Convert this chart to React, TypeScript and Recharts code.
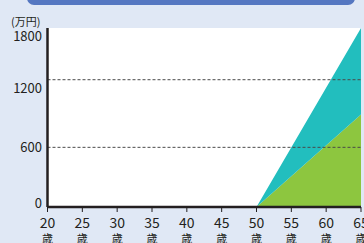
import { AreaChart, Area, XAxis, YAxis, CartesianGrid, ReferenceLine } from "recharts"

// 年齢 (x) と積み上げ金額 (万円)
const ages = [20, 50, 65]
const greenValues = [0, 0, 930]
const tealValues = [0, 0, 870]

const ageTicks = [20, 25, 30, 35, 40, 45, 50, 55, 60, 65]
const yenTicks = [0, 600, 1200, 1800]
const dashedLevels = [600, 1280]

const data = ages.map((age, i) => ({ age, green: greenValues[i], teal: tealValues[i] }))

const FONT = "'Noto Sans CJK JP', 'Noto Sans', sans-serif"

const AgeTick = (props: any) => {
  const { x, y, payload } = props
  return (
    <g transform={`translate(${x},${y})`}>
      <text textAnchor="middle" fontFamily={FONT} fontSize={14} fill="#231f20" dy={14}>
        {payload.value}
      </text>
      <text textAnchor="middle" fontFamily={FONT} fontSize={11} fill="#231f20" dy={29}>
        歳
      </text>
    </g>
  )
}

const YenTick = (props: any) => {
  const { y, payload } = props
  // 端のラベルは内側に寄せてある
  let shift = 0
  if (payload.value === 1800) shift = 8
  if (payload.value === 0) shift = -4
  return (
    <text x={42} y={y + shift} dy={5} textAnchor="end" fontFamily={FONT} fontSize={13} fill="#231f20">
      {payload.value}
    </text>
  )
}

export default function App() {
  return (
    <div
      style={{
        position: "absolute",
        left: 0,
        top: 0,
        width: 364,
        height: 243,
        overflow: "hidden",
        background: "#e0e8f5",
      }}
    >
      <div
        style={{
          position: "absolute",
          left: 27,
          top: -8,
          width: 328,
          height: 13,
          background: "#5577c1",
          borderRadius: "0 0 7px 7px",
        }}
      />
      <div
        style={{
          position: "absolute",
          left: 11,
          top: 16,
          fontFamily: FONT,
          fontSize: 11,
          lineHeight: 1,
          color: "#231f20",
          whiteSpace: "nowrap",
        }}
      >
        (万円)
      </div>
      <AreaChart width={364} height={243} data={data} margin={{ top: 28, right: 3, left: 0, bottom: 0 }}>
        <CartesianGrid horizontal={false} vertical={false} fill="#ffffff" />
        <XAxis
          dataKey="age"
          type="number"
          domain={[20, 65]}
          ticks={ageTicks}
          height={36}
          interval={0}
          tick={<AgeTick />}
          axisLine={{ stroke: "#231f20", strokeWidth: 2.5 }}
          tickLine={{ stroke: "#231f20", strokeWidth: 1 }}
          tickSize={5}
        />
        <YAxis
          type="number"
          domain={[0, 1800]}
          ticks={yenTicks}
          width={47.5}
          interval={0}
          tick={<YenTick />}
          axisLine={{ stroke: "#231f20", strokeWidth: 2.5 }}
          tickLine={false}
        />
        <Area
          type="linear"
          dataKey="green"
          stackId="a"
          stroke="none"
          fill="#8dc63f"
          fillOpacity={1}
          isAnimationActive={false}
        />
        <Area
          type="linear"
          dataKey="teal"
          stackId="a"
          stroke="none"
          fill="#22bebe"
          fillOpacity={1}
          isAnimationActive={false}
        />
        {dashedLevels.map((v) => (
          <ReferenceLine key={v} y={v} stroke="#4a4a4a" strokeWidth={1} strokeDasharray="3 2" />
        ))}
      </AreaChart>
    </div>
  )
}
